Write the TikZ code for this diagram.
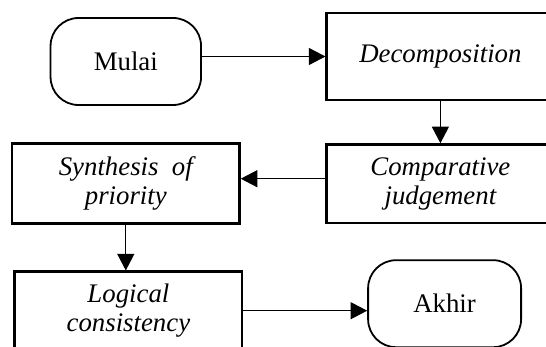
\documentclass[tikz,border=0pt]{standalone}
\usepackage{fontspec}
\setmainfont{Liberation Serif}
\usepackage{tikz}
\usetikzlibrary{shapes, arrows.meta, positioning}
\tikzstyle{block} = [draw, fill=white, rectangle, line width=1.2pt, minimum width=113.75pt, align=center, font=\fontsize{13.4}{14.3}\selectfont\itshape]
\tikzstyle{terminal} = [draw, fill=white, rectangle, rounded corners=14pt, line width=0.9pt, minimum width=75.25pt, minimum height=43.5pt, font=\fontsize{13.4}{14.3}\selectfont]
\tikzstyle{flow} = [line width=0.6pt, -{Triangle[length=8.3pt, width=8.5pt]}]

\begin{document}
\begin{tikzpicture}[auto, node distance=157.3pt]
    \useasboundingbox (0,0) rectangle (273pt,-173.5pt);
    \node [terminal] at (62.9pt,-30.75pt) (mulai) {Mulai};
    \node [block, minimum height=43.5pt, right of=mulai, yshift=2.5pt] (dec) {Decomposition};
    \node [block, minimum height=39.25pt, below of=dec, node distance=63.6pt] (comp) {Comparative\\judgement};
    \node [block, minimum height=40pt, left of=comp] (syn) {Synthesis \ of\\priority};
    \node [block, minimum height=39pt, below of=syn, node distance=63.5pt, xshift=1.3pt] (logic) {Logical\\consistency};
    \node [terminal, right of=logic, node distance=158.1pt, yshift=3.5pt, minimum width=76.5pt] (akhir) {Akhir};
    \draw [flow] (mulai.east |- dec.west) -- (dec.west);
    \draw [flow] (dec.south) -- (comp.north);
    \draw [flow] ([yshift=2.5pt]comp.west) -- ([yshift=2.5pt]comp.west -| syn.east);
    \draw [flow] (syn.south) -- (syn.south |- logic.north);
    \draw [flow] (logic.east) -- (logic.east -| akhir.west);
\end{tikzpicture}
\end{document}
